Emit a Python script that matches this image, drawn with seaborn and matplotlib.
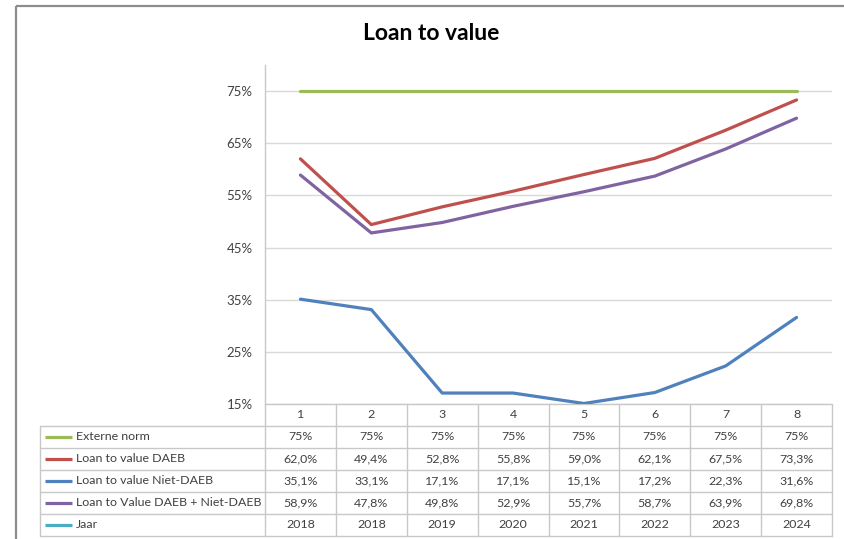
import pandas as pd
import matplotlib
matplotlib.use('Agg')
import matplotlib.pyplot as plt
import seaborn as sns
from matplotlib.patches import Rectangle

# ---------------------------------------------
# DATA
# ---------------------------------------------
categories = [1, 2, 3, 4, 5, 6, 7, 8]
externe_norm = [75, 75, 75, 75, 75, 75, 75, 75]
ltv_daeb = [62.0, 49.4, 52.8, 55.8, 59.0, 62.1, 67.5, 73.3]
ltv_niet_daeb = [35.1, 33.1, 17.1, 17.1, 15.1, 17.2, 22.3, 31.6]
ltv_totaal = [58.9, 47.8, 49.8, 52.9, 55.7, 58.7, 63.9, 69.8]
jaar = [2018, 2018, 2019, 2020, 2021, 2022, 2023, 2024]

series_names = ['Externe norm', 'Loan to value DAEB', 'Loan to value Niet-DAEB',
                'Loan to Value DAEB + Niet-DAEB', 'Jaar']
colors = ['#9BBB59', '#C0504D', '#4F81BD', '#8064A2', '#4BACC6']
yticks = [15, 25, 35, 45, 55, 65, 75]

# long form for seaborn
plot_series = [externe_norm, ltv_daeb, ltv_niet_daeb, ltv_totaal]
df = pd.concat([pd.DataFrame({'cat': categories, 'value': vals, 'serie': name})
                for name, vals in zip(series_names[:4], plot_series)])

# ---------------------------------------------
# FIGURE
# ---------------------------------------------
sns.set_theme(style='white')
plt.rcParams['font.family'] = ['Lato', 'DejaVu Sans']

W, H = 844, 539
fig = plt.figure(figsize=(W / 100, H / 100), dpi=100)

ax_left, ax_right, ax_top, ax_bottom = 265, 832, 65, 404
ax = fig.add_axes([ax_left / W, (H - ax_bottom) / H,
                   (ax_right - ax_left) / W, (ax_bottom - ax_top) / H])

sns.lineplot(data=df, x='cat', y='value', hue='serie', hue_order=series_names[:4],
             palette=colors[:4], linewidth=2.3, legend=False, ax=ax)
ax.set_xlim(0.5, 8.5)
ax.set_ylim(15, 80)
ax.set_yticks(yticks)
ax.set_yticklabels([f'{v}%' for v in yticks], fontsize=9.5, color='#404040')
ax.set_xticks([])
ax.set_xlabel('')
ax.set_ylabel('')
ax.tick_params(axis='y', length=0, pad=9)
ax.grid(axis='y', color='#D9D9D9', linewidth=1)
ax.set_axisbelow(True)
for s in ['top', 'right', 'bottom']:
    ax.spines[s].set_visible(False)
ax.spines['left'].set_color('#C8C8C8')
ax.spines['left'].set_linewidth(1)
ax.patch.set_alpha(0)

# overlay in pixel coordinates for frame, title and data table
ov = fig.add_axes([0, 0, 1, 1], zorder=-1)
ov.set_xlim(0, W)
ov.set_ylim(H, 0)
ov.axis('off')

ov.add_patch(Rectangle((16, 6), W, H, fill=False, edgecolor='#8C8C8C', linewidth=1.6))
ov.text(431, 34, 'Loan to value', ha='center', va='center', fontsize=16.5,
        fontweight='bold', color='black')

# data table
col_x = [ax.transData.transform((c, 0))[0] for c in categories]
col_edges = [ax.transData.transform((c - 0.5, 0))[0] for c in categories] + [ax_right]
row_h = 22
row_y = [ax_bottom + i * row_h for i in range(7)]
label_left = 40
grid_c = '#C8C8C8'

ov.plot([col_edges[0], col_edges[-1]], [row_y[0], row_y[0]], color=grid_c, lw=1)
for y in row_y[1:]:
    ov.plot([label_left, col_edges[-1]], [y, y], color=grid_c, lw=1)
for x in col_edges:
    ov.plot([x, x], [row_y[0], row_y[-1]], color=grid_c, lw=1)
ov.plot([label_left, label_left], [row_y[1], row_y[-1]], color=grid_c, lw=1)

fs = 8.9
txt = dict(ha='center', va='center', fontsize=fs, color='#404040')
for c, x in zip(categories, col_x):
    ov.text(x, row_y[0] + row_h / 2, str(c), **txt)

def pct1(v):
    return f'{v:.1f}%'.replace('.', ',')

table_rows = [
    [f'{v:.0f}%' for v in externe_norm],
    [pct1(v) for v in ltv_daeb],
    [pct1(v) for v in ltv_niet_daeb],
    [pct1(v) for v in ltv_totaal],
    [str(v) for v in jaar],
]
for r, (name, color, cells) in enumerate(zip(series_names, colors, table_rows)):
    yc = row_y[r + 1] + row_h / 2
    ov.plot([45, 72], [yc, yc], color=color, lw=2.3, solid_capstyle='butt')
    ov.text(76, yc, name, ha='left', va='center', fontsize=fs, color='#404040')
    for x, cell in zip(col_x, cells):
        ov.text(x, yc, cell, **txt)

fig.savefig('out.png', dpi=100, facecolor='white')
